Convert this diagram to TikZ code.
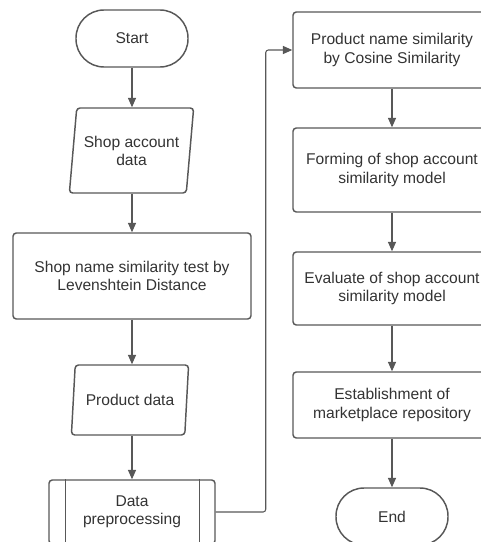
\documentclass[tikz,border=0pt]{standalone}
\usepackage{fontspec}
\setmainfont{Liberation Sans}
\usepackage{tikz}
\usetikzlibrary{arrows.meta,positioning,shapes.geometric}
\definecolor{fcline}{RGB}{88,88,88}
\definecolor{fctext}{RGB}{51,51,51}

\begin{document}
\begin{tikzpicture}[
  x=0.75pt, y=-0.75pt,
  every node/.style={font=\fontsize{11.7}{13.6}\selectfont, text=fctext, align=center, inner sep=2pt},
  termbox/.style={draw=fcline, line width=1.1pt, rounded corners=21pt, minimum width=84pt, minimum height=42.75pt},
  procbox/.style={draw=fcline, line width=1.1pt, rounded corners=2.5pt},
  iobox/.style={draw=fcline, line width=1.1pt, trapezium, trapezium left angle=79, trapezium right angle=101,
                trapezium stretches=true, rounded corners=2.5pt},
  flow/.style={-{Triangle[length=7pt,width=6pt]}, draw=fcline, line width=0.8pt},
]
\useasboundingbox (0,0) rectangle (480,542);

% Left column
\node[termbox] (start) at (132,38.5) {Start};
\node[iobox, minimum width=93.75pt, minimum height=63.75pt] (acct) at (131.5,150.5) {Shop account\\data};
\node[procbox, minimum width=178.5pt, minimum height=64.5pt] (shopname) at (132,276) {Shop name similarity test by\\Levenshtein Distance};
\node[iobox, minimum width=88.5pt, minimum height=52.5pt] (product) at (130,400) {Product data};
\node[procbox, minimum width=124.5pt, minimum height=48pt] (prep) at (132,512) {Data\\preprocessing};
\draw[fcline, line width=1.1pt] ([xshift=13pt]prep.north west) -- ([xshift=13pt]prep.south west);
\draw[fcline, line width=1.1pt] ([xshift=-12pt]prep.north east) -- ([xshift=-12pt]prep.south east);

% Right column
\node[procbox, minimum width=148.5pt, minimum height=57pt] (pname) at (392,50) {Product name similarity\\by Cosine Similarity};
\node[procbox, minimum width=148.5pt, minimum height=63pt] (forming) at (392,170) {Forming of shop account\\similarity model};
\node[procbox, minimum width=148.5pt, minimum height=54.75pt] (evaluate) at (392,288.5) {Evaluate of shop account\\similarity model};
\node[procbox, minimum width=148.5pt, minimum height=49.5pt] (establish) at (392,405) {Establishment of\\marketplace repository};
\node[termbox] (end) at (392,516.5) {End};

% Arrows
\draw[flow] (start.south) -- (start.south |- acct.north);
\draw[flow] (start.south |- acct.south) -- (shopname.north);
\draw[flow] (shopname.south) -- (shopname.south |- product.north);
\draw[flow] (shopname.south |- product.south) -- (prep.north);
\draw[flow, rounded corners=2pt] (prep.east) -- ++(50,0) |- (pname.west);
\draw[flow] (pname.south) -- (forming.north);
\draw[flow] (forming.south) -- (evaluate.north);
\draw[flow] (evaluate.south) -- (establish.north);
\draw[flow] (establish.south) -- (end.north);

\end{tikzpicture}
\end{document}
